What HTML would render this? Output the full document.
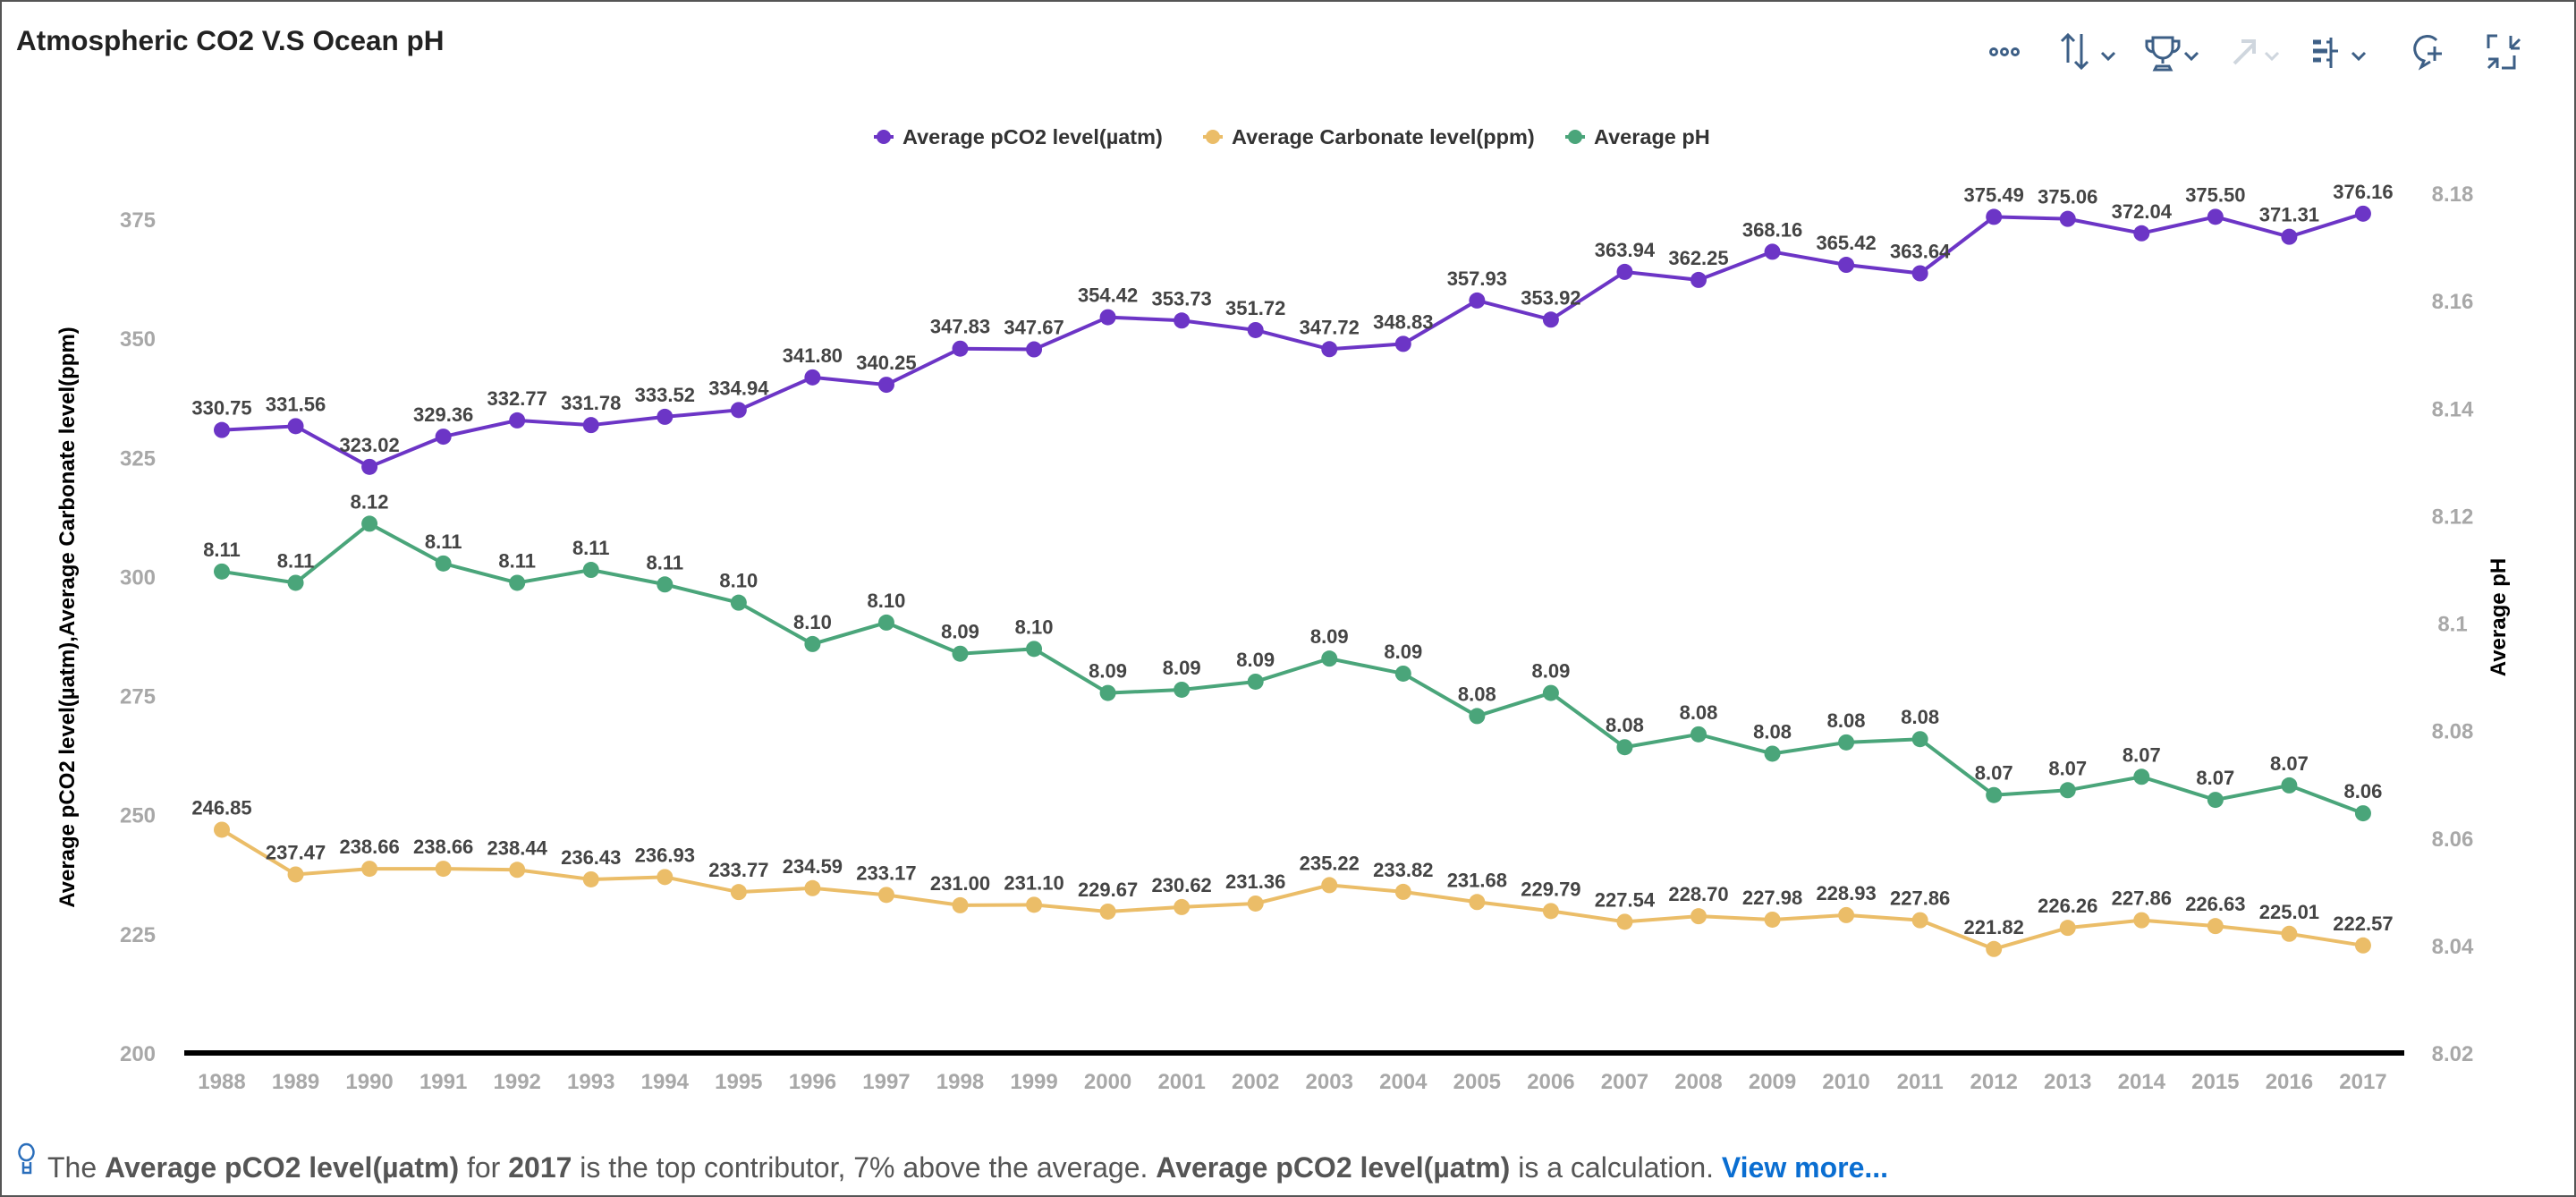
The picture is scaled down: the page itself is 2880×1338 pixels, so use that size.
<!DOCTYPE html>
<html><head><meta charset="utf-8"><style>
html,body{margin:0;padding:0;background:#fff;}
body{width:2880px;height:1338px;overflow:hidden;position:relative;font-family:"Liberation Sans",sans-serif;}
#frame{position:absolute;left:0;top:0;width:2876px;height:1334px;border:2px solid #555;}
svg{position:absolute;left:0;top:0;}
</style></head><body>
<div id="frame"></div>
<svg id="chart" width="2880" height="1338">
<text x="18" y="56" font-size="31.5" font-weight="bold" fill="#222">Atmospheric CO2 V.S Ocean pH</text>
<g stroke="#3d5f86" stroke-width="3" fill="none">
 <g><circle cx="2229" cy="58" r="3.5"/><circle cx="2241" cy="58" r="3.5"/><circle cx="2253" cy="58" r="3.5"/></g>
 <g><path d="M2312 70V39M2305 46l7-7 7 7M2327 38v38M2320 69l7 7 7-7M2350 59l7 7 7-7"/></g>
 <g><path d="M2407 42h22v12a11 11 0 0 1-22 0zM2407 46h-7v6a8 8 0 0 0 8 6M2429 46h7v6a8 8 0 0 1-8 6M2418 65v6M2411 74h14l2 4h-18z"/><path d="M2443 59l7 7 7-7"/></g>
 <g stroke="#cfd6de" stroke-width="4"><path d="M2498 71l22-22M2506 46h14v14"/><path stroke-width="3" d="M2533 59l7 7 7-7"/></g>
 <g><path stroke-width="5" d="M2586 47h9M2586 57h16M2586 67h9"/><path d="M2606 42v34M2606 57h8M2601 47h5M2601 67h5M2630 59l7 7 7-7"/></g>
 <g><path d="M2724 45a14 14 0 1 0-14 23l-3 7 10-6"/><path d="M2722 52v16M2714 60h16"/></g>
 <g><path d="M2792 40h-10v14M2807 40v14M2807 54l10-10M2807 54h10M2782 76l10-10M2782 66h10v10M2797 76h14v-14"/></g>
</g>
<g id="legend"></g>
<g id="axes"></g>
<g id="series"></g>
<text x="83" y="690" transform="rotate(-90 83 690)" text-anchor="middle" font-size="24" font-weight="bold" fill="#000">Average pCO2 level(µatm),Average Carbonate level(ppm)</text>
<text x="2801" y="690" transform="rotate(-90 2801 690)" text-anchor="middle" font-size="24" font-weight="bold" fill="#000">Average pH</text>
<g stroke="#2a6ebb" stroke-width="2.5" fill="none"><path d="M30 1297a8 9 0 1 0-1 0zM26 1299v12h8v-12M26 1305h8"/></g>
<text x="53" y="1316" font-size="32" fill="#555">The <tspan font-weight="bold">Average pCO2 level(µatm)</tspan> for <tspan font-weight="bold">2017</tspan> is the top contributor, 7% above the average. <tspan font-weight="bold">Average pCO2 level(µatm)</tspan> is a calculation. <tspan font-weight="bold" fill="#0a6ed1">View more...</tspan></text>
</svg>
<script>
const years=[1988,1989,1990,1991,1992,1993,1994,1995,1996,1997,1998,1999,2000,2001,2002,2003,2004,2005,2006,2007,2008,2009,2010,2011,2012,2013,2014,2015,2016,2017];
const pco2=[330.75,331.56,323.02,329.36,332.77,331.78,333.52,334.94,341.80,340.25,347.83,347.67,354.42,353.73,351.72,347.72,348.83,357.93,353.92,363.94,362.25,368.16,365.42,363.64,375.49,375.06,372.04,375.50,371.31,376.16];
const carbonate=[246.85,237.47,238.66,238.66,238.44,236.43,236.93,233.77,234.59,233.17,231.00,231.10,229.67,230.62,231.36,235.22,233.82,231.68,229.79,227.54,228.70,227.98,228.93,227.86,221.82,226.26,227.86,226.63,225.01,222.57];
const ph=[8.1096,8.1075,8.1185,8.1111,8.1075,8.1099,8.1072,8.1038,8.0961,8.1001,8.0943,8.0952,8.0870,8.0876,8.0891,8.0934,8.0906,8.0827,8.0870,8.0769,8.0793,8.0757,8.0778,8.0784,8.0680,8.0689,8.0714,8.0671,8.0698,8.0646];
const leftTicks=[200,225,250,275,300,325,350,375];
const rightTicks=[8.02,8.04,8.06,8.08,8.1,8.12,8.14,8.16,8.18];
const seriesNames=["Average pCO2 level(µatm)","Average Carbonate level(ppm)","Average pH"];
const colors=["#6c35c6","#ebbd68","#4aa57a"];
const NS="http://www.w3.org/2000/svg";
const X0=248,DX=82.55,YB=1177,YT=245,YTR=216;
const x=i=>X0+i*DX;
const yL=v=>YB-(v-200)/(375-200)*(YB-YT);
const yR=v=>YB-(v-8.02)/(8.18-8.02)*(YB-YTR);
function mk(t,a,p){const e=document.createElementNS(NS,t);for(const k in a)e.setAttribute(k,a[k]);p.appendChild(e);return e;}
const axes=document.getElementById('axes');
leftTicks.forEach(v=>{const t=mk('text',{x:154,y:yL(v)+9,'text-anchor':'middle','font-size':24,'font-weight':'bold',fill:'#a8a8a8'},axes);t.textContent=v;

});
rightTicks.forEach(v=>{const t=mk('text',{x:2742,y:yR(v)+9,'text-anchor':'middle','font-size':24,'font-weight':'bold',fill:'#a8a8a8'},axes);t.textContent=String(v);

});
years.forEach((yr,i)=>{const t=mk('text',{x:x(i),y:1217,'text-anchor':'middle','font-size':24,'font-weight':'bold',fill:'#a8a8a8'},axes);t.textContent=yr;

});
const base=mk('line',{x1:206,x2:2688,y1:YB,y2:YB,stroke:'#000','stroke-width':6},axes);


const ser=document.getElementById('series');
function draw(vals,yf,col,name){
 const g=mk('g',{},ser);
 
 
 const pl=mk('polyline',{points:vals.map((v,i)=>x(i)+','+yf(v)).join(' '),fill:'none',stroke:col,'stroke-width':4},g);
 
 
 vals.forEach((v,i)=>{
  const c=mk('circle',{cx:x(i),cy:yf(v),r:9,fill:col},g);
  
  
  const t=mk('text',{x:x(i),y:yf(v)-17,'text-anchor':'middle','font-size':22,'font-weight':'bold',fill:'#444'},g);
  t.textContent=v.toFixed(2);
  
  
 });
}
draw(carbonate,yL,colors[1],'carbonate-series');
draw(ph,yR,colors[2],'ph-series');
draw(pco2,yL,colors[0],'pco2-series');
const lg=document.getElementById('legend');
let lx=977;
const widths=[368,405,200];
seriesNames.forEach((n,i)=>{
 const g=mk('g',{},lg);
 
 
 mk('line',{x1:lx,x2:lx+22,y1:153,y2:153,stroke:colors[i],'stroke-width':4},g);
 mk('circle',{cx:lx+11,cy:153,r:8,fill:colors[i]},g);
 const t=mk('text',{x:lx+32,y:161,'font-size':23.5,'font-weight':'bold',fill:'#333'},g);
 t.textContent=n;
 lx+=widths[i];
});
</script>
</body></html>
